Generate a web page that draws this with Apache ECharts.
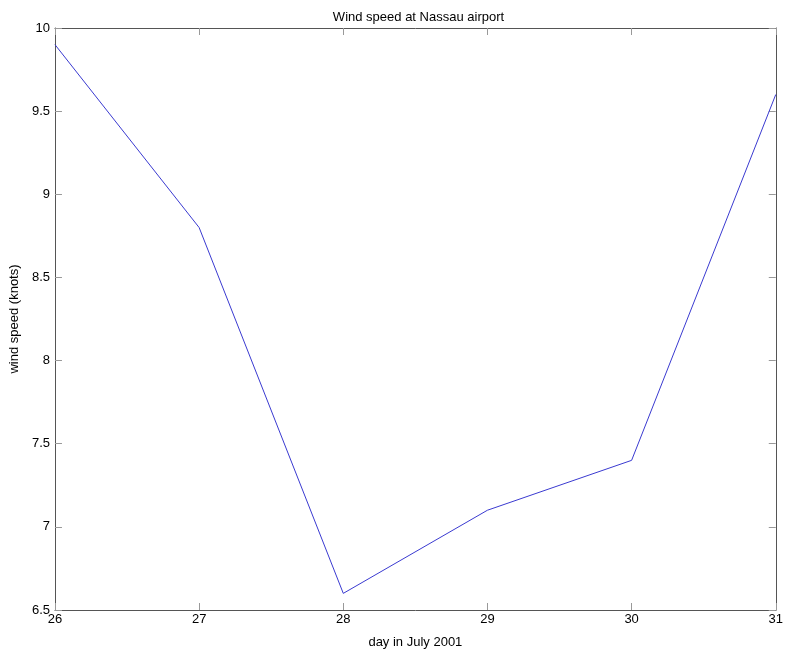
<!DOCTYPE html>
<html>
<head>
<meta charset="utf-8">
<script src="https://cdn.jsdelivr.net/npm/echarts@6/dist/echarts.min.js"></script>
<style>
  html, body { margin: 0; padding: 0; background: #fff; }
  #chart { width: 786px; height: 654px; }
</style>
</head>
<body>
<div id="chart"></div>
<script>
// Days of July 2001 and the wind speed recorded at Nassau airport
const days = [26, 27, 28, 29, 30, 31];
const windSpeed = [9.9, 8.8, 6.6, 7.1, 7.4, 9.6];

const FONT = 'Liberation Sans, Arial, sans-serif';
const FS = 13;
const axisColor = '#555555';

const points = days.map((d, i) => [d, windSpeed[i]]);

// Box-style axes: ticks point inward on all four sides
const baseAxis = {
  axisLine: { show: true, lineStyle: { color: axisColor, width: 1 } },
  axisTick: { show: true, inside: true, length: 7, lineStyle: { color: '#999999' } },
  splitLine: { show: false }
};

const chart = echarts.init(document.getElementById('chart'), null, { renderer: 'canvas' });
chart.setOption({
  animation: false,
  backgroundColor: '#ffffff',
  title: {
    text: 'Wind speed at Nassau airport',
    left: 413.5,
    textAlign: 'center',
    top: 6,
    textStyle: { fontFamily: FONT, fontSize: FS, fontWeight: 'normal', color: '#000' }
  },
  grid: { left: 48, right: 7, top: 28, bottom: 38 },
  xAxis: [
    Object.assign({}, baseAxis, {
      type: 'value', min: 26, max: 31, interval: 1, position: 'bottom',
      name: 'day in July 2001', nameLocation: 'middle', nameGap: 26,
      nameTextStyle: { fontFamily: FONT, fontSize: FS, color: '#000' },
      axisLabel: { fontFamily: FONT, fontSize: FS, color: '#000', margin: 3 }
    }),
    Object.assign({}, baseAxis, {
      type: 'value', min: 26, max: 31, interval: 1, position: 'top',
      axisLabel: { show: false }
    })
  ],
  yAxis: [
    Object.assign({}, baseAxis, {
      type: 'value', min: 6.5, max: 10, interval: 0.5, position: 'left',
      name: 'wind speed (knots)', nameLocation: 'middle', nameGap: 30,
      nameTextStyle: { fontFamily: FONT, fontSize: FS, color: '#000' },
      axisLabel: { fontFamily: FONT, fontSize: FS, color: '#000', margin: 5 }
    }),
    Object.assign({}, baseAxis, {
      type: 'value', min: 6.5, max: 10, interval: 0.5, position: 'right',
      axisLabel: { show: false }
    })
  ],
  series: [{
    type: 'line',
    data: points,
    showSymbol: false,
    lineStyle: { color: '#3a3ad0', width: 1 },
    itemStyle: { color: '#3a3ad0' }
  }]
});
</script>
</body>
</html>
